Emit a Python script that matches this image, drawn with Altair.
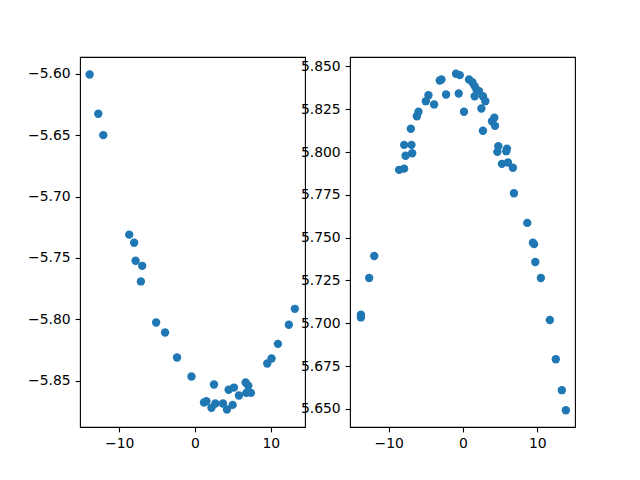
import altair as alt
import pandas as pd

left_x = [-13.9, -12.76, -12.1, -8.68, -8.03, -7.84, -6.97, -7.14, -5.13, -3.95,
          -2.37, -0.47, 2.5, 1.18, 1.5, 2.16, 2.68, 3.68, 4.21, 4.96,
          4.43, 5.13, 5.79, 6.67, 7.02, 6.76, 7.37, 9.52, 10.09, 10.93,
          12.37, 13.16]
left_y = [-5.6006, -5.6326, -5.650, -5.731, -5.7376, -5.7523, -5.7564, -5.7691, -5.8025, -5.8107,
          -5.831, -5.8465, -5.853, -5.8677, -5.8666, -5.872, -5.8685, -5.8685, -5.8734, -5.8696,
          -5.8573, -5.8555, -5.862, -5.8514, -5.854, -5.8598, -5.8598, -5.8359, -5.8318, -5.8199,
          -5.8044, -5.7914]

right_x = [-0.94, -0.44, -3.13, -2.9, 0.81, 1.26, 1.57, 1.8, 2.15, 1.57,
           2.68, 3.0, 2.47, -2.28, -0.58, -4.65, -5.0, -3.89, 0.13, -5.99,
           -6.21, -7.02, 4.21, 3.9, 4.3, 2.68, -7.92, -6.93, -7.73, -6.84,
           4.75, 4.62, 5.91, 5.82, 5.23, 6.04, 6.71, -8.59, -7.92, 6.85,
           8.64, 9.4, 9.55, 9.72, 10.47, 11.68, 12.48, 13.29, 13.83, -11.94,
           -12.62, -13.73, -13.73]
right_y = [5.8457, 5.8449, 5.8418, 5.8424, 5.8424, 5.8408, 5.8385, 5.8366, 5.8356, 5.8326,
           5.8326, 5.8297, 5.8254, 5.8336, 5.8342, 5.8332, 5.8297, 5.8278, 5.8235, 5.8235,
           5.8209, 5.8136, 5.8200, 5.8180, 5.8153, 5.8124, 5.8042, 5.8042, 5.7978, 5.7993,
           5.8034, 5.8001, 5.8020, 5.8005, 5.7931, 5.7939, 5.7908, 5.7896, 5.7903, 5.7759,
           5.7586, 5.7470, 5.7462, 5.7358, 5.7264, 5.7019, 5.6790, 5.6609, 5.6492, 5.7393,
           5.7264, 5.7050, 5.7034]

x_ticks = [-10, 0, 10]
left_y_ticks = [-5.85, -5.80, -5.75, -5.70, -5.65, -5.60]
right_y_ticks = [5.650, 5.675, 5.700, 5.725, 5.750, 5.775, 5.800, 5.825, 5.850]

df_left = pd.DataFrame({"x": left_x, "y": left_y})
df_right = pd.DataFrame({"x": right_x, "y": right_y})

FONT = "DejaVu Sans"
axis_common = dict(grid=False, domain=False, tickColor="black", tickSize=4.9, tickWidth=1.1,
                   labelPadding=4.9, labelFontSize=13.9, labelFont=FONT, labelColor="black",
                   title=None)

def panel(df, xdom, ydom, yticks, yfmt):
    return alt.Chart(df).mark_circle(size=70, color="#1f77b4", opacity=1).encode(
        x=alt.X("x:Q", scale=alt.Scale(domain=xdom, nice=False, zero=False),
                axis=alt.Axis(values=x_ticks, format="d", labelFlush=False, **axis_common)),
        y=alt.Y("y:Q", scale=alt.Scale(domain=ydom, nice=False, zero=False),
                axis=alt.Axis(values=yticks, format=yfmt, labelFlush=False, **axis_common)),
    ).properties(width=225, height=370)

left = panel(df_left, [-15.17, 14.5], [-5.8876, -5.5864], left_y_ticks, ".2f")
right = panel(df_right, [-15.2, 15.06], [5.6394, 5.8555], right_y_ticks, ".3f")

chart = alt.hconcat(left, right, spacing=-7).properties(
    padding={"left": 19, "top": 48, "right": 5, "bottom": 5},
    background="white",
).configure_view(stroke="black", strokeWidth=1.1)

chart.save("out.html", embed_options={"renderer": "svg", "actions": False})
